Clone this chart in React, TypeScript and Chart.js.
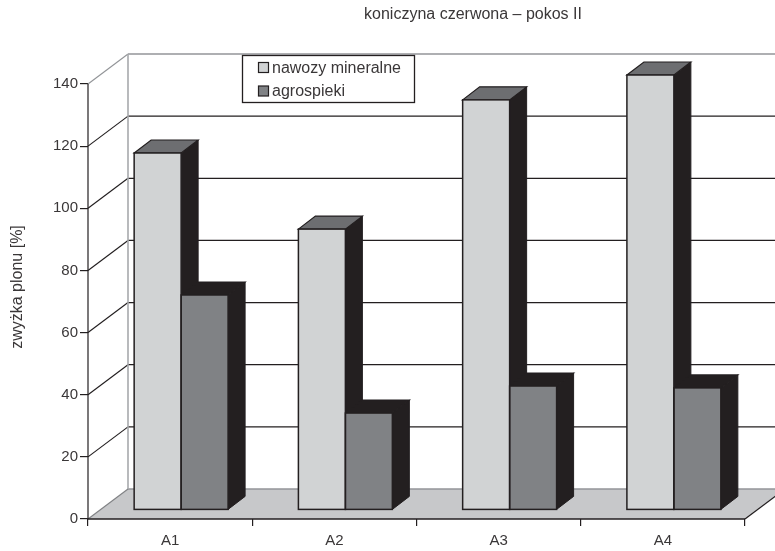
import React, { useEffect, useRef } from "react";
import { Chart, registerables } from "chart.js";

Chart.register(...registerables);

const categories = ["A1", "A2", "A3", "A4"];
const mineral = [114.9, 90.4, 132, 140];
const agro = [69.2, 31.2, 39.9, 39.3];
const yTicks = [0, 20, 40, 60, 80, 100, 120, 140];
const seriesNames = ["nawozy mineralne", "agrospieki"];
const chartTitle = "koniczyna czerwona – pokos II";
const yTitle = "zwyżka plonu [%]";

const FONT = '"Liberation Sans", Arial, sans-serif';
const INK = "#231f20";
const TEXT = "#3a3738";
const LIGHT = "#d1d3d4";
const MID = "#808285";
const WALL_LINE = "#939598";
const FLOOR = "#c7c8ca";
const TOP_FACE = "#6d6e71";
const DEPTH = { dx: 40, dy: 30 };
const BAR_SHIFT = { dx: 11, dy: 9 };
const BAR_DEPTH = { dx: 17, dy: 13 };

function poly(ctx: CanvasRenderingContext2D, pts: number[][], fill: string | null, stroke: string | null, w = 1.5) {
  ctx.beginPath();
  pts.forEach((p, i) => (i ? ctx.lineTo(p[0], p[1]) : ctx.moveTo(p[0], p[1])));
  ctx.closePath();
  if (fill) { ctx.fillStyle = fill; ctx.fill(); }
  if (stroke) { ctx.strokeStyle = stroke; ctx.lineWidth = w; ctx.lineJoin = "miter"; ctx.stroke(); }
}

function line(ctx: CanvasRenderingContext2D, x1: number, y1: number, x2: number, y2: number, color: string, w = 1.5) {
  ctx.beginPath();
  ctx.moveTo(x1, y1);
  ctx.lineTo(x2, y2);
  ctx.strokeStyle = color;
  ctx.lineWidth = w;
  ctx.stroke();
}

const scene = {
  id: "scene3d",
  afterLayout(chart: any) {
    // place the title box over the reference's offset centre
    const t = chart.titleBlock;
    if (t) {
      t.left = 171;
      t.right = 775;
      t.width = 604;
    }
  },
  beforeDatasetsDraw(chart: any) {
    const { ctx, scales, chartArea: a } = chart;
    const y = scales.y;
    const { dx, dy } = DEPTH;
    ctx.save();
    // y axis title
    ctx.save();
    ctx.translate(18, 287);
    ctx.rotate(-Math.PI / 2);
    ctx.font = `16px ${FONT}`;
    ctx.fillStyle = TEXT;
    ctx.textAlign = "center";
    ctx.textBaseline = "middle";
    ctx.fillText(yTitle, 0, 0);
    ctx.restore();
    // floor
    poly(ctx, [[a.left, a.bottom], [a.left + dx, a.bottom - dy], [a.right + dx, a.bottom - dy], [a.right, a.bottom]], FLOOR, null);
    // back wall grid and left wall diagonals
    yTicks.forEach((v) => {
      const py = y.getPixelForValue(v);
      const top = v === yTicks[yTicks.length - 1];
      const base = v === 0;
      const color = top || base ? WALL_LINE : INK;
      line(ctx, a.left + dx, py - dy, a.right + dx, py - dy, color, top || base ? 1.6 : 1.2);
      if (!base) line(ctx, a.left, py, a.left + dx, py - dy, top ? WALL_LINE : INK, 1.2);
    });
    line(ctx, a.left + dx, a.top - dy, a.left + dx, a.bottom - dy, "#a7a9ac", 1.6);
    line(ctx, a.left, a.bottom, a.left + dx, a.bottom - dy, "#808285", 1.2);
    line(ctx, a.right, a.bottom, a.right + dx, a.bottom - dy, INK, 1.2);
    // axis frame
    line(ctx, a.left, a.top, a.left, a.bottom, INK, 1.2);
    line(ctx, a.left, a.bottom, a.right, a.bottom, INK, 1.6);
    ctx.restore();

    // every bar gets its depth, back to front in drawing order
    const metas = [chart.getDatasetMeta(0), chart.getDatasetMeta(1)];
    categories.forEach((_, i) => {
      metas.forEach((m) => {
        const b = m.data[i];
        const l = b.x - b.width / 2 + BAR_SHIFT.dx;
        const r = b.x + b.width / 2 + BAR_SHIFT.dx;
        const t = b.y - BAR_SHIFT.dy;
        const bot = b.base - BAR_SHIFT.dy;
        const d = BAR_DEPTH;
        ctx.save();
        poly(ctx, [[r, t], [r + d.dx, t - d.dy], [r + d.dx, bot - d.dy], [r, bot]], INK, INK, 1);
        poly(ctx, [[l, t], [l + d.dx, t - d.dy], [r + d.dx, t - d.dy], [r, t]], m.index === 0 ? TOP_FACE : INK, INK, 1.2);
        ctx.restore();
      });
    });
    ctx.save();
    ctx.translate(BAR_SHIFT.dx, -BAR_SHIFT.dy);
  },
  afterDatasetsDraw(chart: any) {
    const { ctx } = chart;
    ctx.restore();
    // outlines of the front faces, so that they are centred on the bar edges
    [chart.getDatasetMeta(0), chart.getDatasetMeta(1)].forEach((m) => {
      m.data.forEach((b: any) => {
        const l = b.x - b.width / 2 + BAR_SHIFT.dx;
        const t = b.y - BAR_SHIFT.dy;
        ctx.strokeStyle = INK;
        ctx.lineWidth = 1.5;
        ctx.strokeRect(l, t, b.width, b.base - b.y);
      });
    });
    // legend
    const items = [
      { name: chart.data.datasets[0].label, color: chart.data.datasets[0].backgroundColor, y: 67.5 },
      { name: chart.data.datasets[1].label, color: chart.data.datasets[1].backgroundColor, y: 91 },
    ];
    ctx.save();
    ctx.fillStyle = "#ffffff";
    ctx.fillRect(242.5, 55.5, 172, 47);
    ctx.strokeStyle = INK;
    ctx.lineWidth = 1.3;
    ctx.strokeRect(242.5, 55.5, 172, 47);
    ctx.font = `16px ${FONT}`;
    ctx.textBaseline = "middle";
    items.forEach((it) => {
      ctx.fillStyle = it.color;
      ctx.fillRect(258.5, it.y - 5, 10, 10);
      ctx.strokeStyle = INK;
      ctx.lineWidth = 1.2;
      ctx.strokeRect(258.5, it.y - 5, 10, 10);
      ctx.fillStyle = TEXT;
      ctx.fillText(it.name, 272, it.y + 1);
    });
    ctx.restore();
  },
};

export default function App() {
  const ref = useRef<HTMLCanvasElement>(null);
  useEffect(() => {
    document.body.style.margin = "0";
    const chart = new Chart(ref.current!, {
      type: "bar",
      data: {
        labels: categories,
        datasets: [
          { label: seriesNames[0], data: mineral, backgroundColor: LIGHT, borderWidth: 0 },
          { label: seriesNames[1], data: agro, backgroundColor: MID, borderWidth: 0 },
        ],
      },
      plugins: [scene],
      options: {
        animation: false,
        responsive: false,
        layout: { padding: { left: 0, right: 30, top: 0, bottom: 0 } },
        datasets: { bar: { barPercentage: 1, categoryPercentage: 0.572 } },
        plugins: {
          legend: { display: false },
          tooltip: { enabled: false },
          title: {
            display: true,
            text: chartTitle,
            color: TEXT,
            font: { family: FONT, size: 16, weight: "normal", lineHeight: 1 },
            padding: { top: 7, bottom: 61 },
          },
        },
        scales: {
          x: {
            afterFit: (s: any) => { s.height = 32; },
            grid: { display: true, drawOnChartArea: false, drawTicks: true, tickLength: 7, color: INK, lineWidth: 1.2 },
            border: { display: false },
            ticks: { color: TEXT, font: { family: FONT, size: 15 }, padding: 6 },
          },
          y: {
            min: 0,
            max: 140,
            afterFit: (s: any) => { s.width = 88; },
            afterBuildTicks: (s: any) => { s.ticks = yTicks.map((value) => ({ value })); },
            grid: { display: true, drawOnChartArea: false, drawTicks: true, tickLength: 8, color: INK, lineWidth: 1.2 },
            border: { display: false },
            ticks: { color: TEXT, font: { family: FONT, size: 15 }, padding: 2 },
          },
        },
      },
    } as any);
    return () => chart.destroy();
  }, []);
  return <canvas ref={ref} width={775} height={551} style={{ display: "block" }} />;
}
